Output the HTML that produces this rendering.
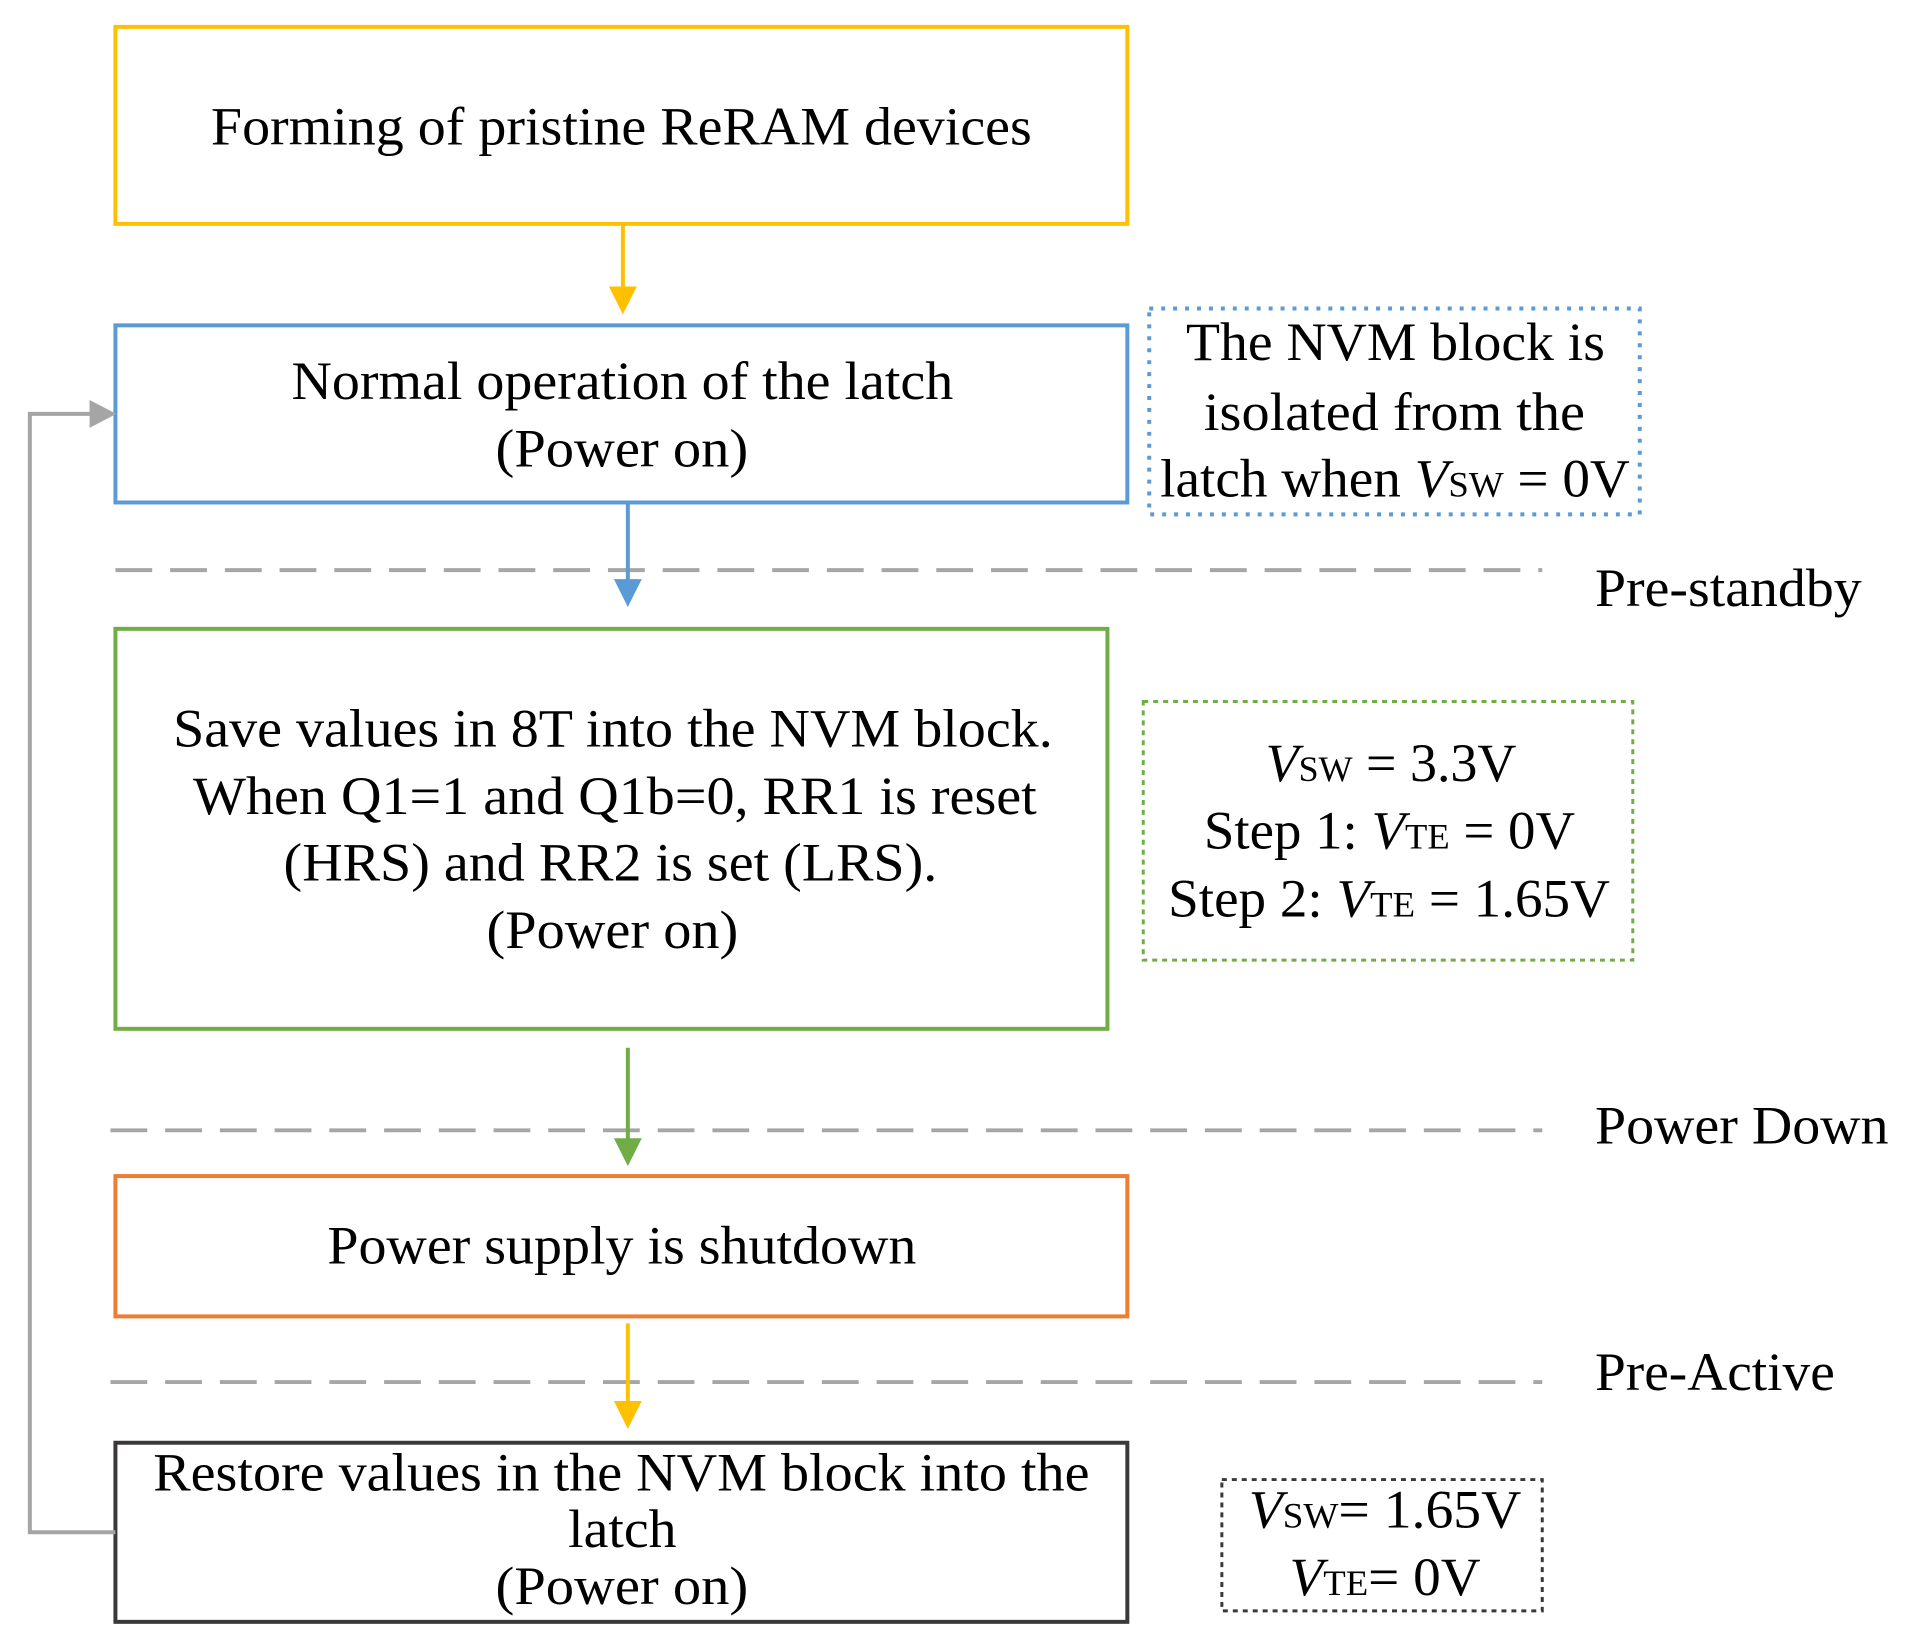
<!DOCTYPE html>
<html><head><meta charset="utf-8"><style>html,body{margin:0;padding:0;background:#fff}svg{display:block}</style></head>
<body>
<svg width="1927" height="1644" viewBox="0 0 1927 1644" xmlns="http://www.w3.org/2000/svg" font-family="'Liberation Serif', serif" font-size="54" fill="#000">
<g transform="scale(0.995)">
<g fill="none" stroke-width="4">
<rect x="116" y="27" width="1017" height="198" stroke="#FFC000"/>
<rect x="116" y="327" width="1017" height="178" stroke="#5B9BD5"/>
<rect x="1155" y="310" width="493" height="207" stroke="#5B9BD5" stroke-dasharray="4 8" stroke-width="4"/>
<rect x="116" y="632" width="997" height="402" stroke="#70AD47"/>
<rect x="1149" y="705" width="492" height="260" stroke="#70AD47" stroke-dasharray="5 5" stroke-width="3"/>
<rect x="116" y="1182" width="1017" height="141" stroke="#ED7D31"/>
<rect x="116" y="1450" width="1017" height="180" stroke="#3B3838"/>
<rect x="1228" y="1487" width="322" height="132" stroke="#3B3838" stroke-dasharray="5 5" stroke-width="3"/>
<g stroke="#A6A6A6" stroke-dasharray="37 18">
<line x1="116" y1="573" x2="1550" y2="573"/>
<line x1="111" y1="1136" x2="1550" y2="1136"/>
<line x1="111" y1="1389" x2="1550" y2="1389"/>
</g>
<line x1="626" y1="225" x2="626" y2="292" stroke="#FFC000"/>
<line x1="631" y1="505" x2="631" y2="586" stroke="#5B9BD5"/>
<line x1="631" y1="1053" x2="631" y2="1148" stroke="#70AD47"/>
<line x1="631" y1="1330" x2="631" y2="1412" stroke="#FFC000"/>
<polyline points="116,1540 30,1540 30,416 95,416" stroke="#A5A5A5"/>
</g>
<polygon points="612,288 640,288 626,316" fill="#FFC000"/>
<polygon points="617,582 645,582 631,610" fill="#5B9BD5"/>
<polygon points="617,1144 645,1144 631,1172" fill="#70AD47"/>
<polygon points="617,1408 645,1408 631,1436" fill="#FFC000"/>
<polygon points="90,402 90,430 117,416" fill="#A5A5A5"/>
<g>
<text x="212" y="145" textLength="825" lengthAdjust="spacingAndGlyphs">Forming of pristine ReRAM devices</text>
<text x="293" y="401" textLength="665" lengthAdjust="spacingAndGlyphs">Normal operation of the latch</text>
<text x="498" y="469" textLength="254" lengthAdjust="spacingAndGlyphs">(Power on)</text>
<text x="1192" y="362" textLength="421" lengthAdjust="spacingAndGlyphs">The NVM block is</text>
<text x="1210" y="432" textLength="383" lengthAdjust="spacingAndGlyphs">isolated from the</text>
<text x="1166" y="499" textLength="472" lengthAdjust="spacingAndGlyphs">latch when <tspan font-style="italic">V</tspan><tspan font-size="36">SW</tspan> = 0V</text>
<text x="1603" y="609" textLength="268" lengthAdjust="spacingAndGlyphs">Pre-standby</text>
<text x="174" y="750" textLength="884" lengthAdjust="spacingAndGlyphs">Save values in 8T into the NVM block.</text>
<text x="194" y="818" textLength="848" lengthAdjust="spacingAndGlyphs">When Q1=1 and Q1b=0, RR1 is reset</text>
<text x="285" y="885" textLength="657" lengthAdjust="spacingAndGlyphs">(HRS) and RR2 is set (LRS).</text>
<text x="489" y="953" textLength="253" lengthAdjust="spacingAndGlyphs">(Power on)</text>
<text x="1272" y="785" textLength="252" lengthAdjust="spacingAndGlyphs"><tspan font-style="italic">V</tspan><tspan font-size="36">SW</tspan> = 3.3V</text>
<text x="1210" y="853" textLength="373" lengthAdjust="spacingAndGlyphs">Step 1: <tspan font-style="italic">V</tspan><tspan font-size="36">TE</tspan> = 0V</text>
<text x="1174" y="921" textLength="444" lengthAdjust="spacingAndGlyphs">Step 2: <tspan font-style="italic">V</tspan><tspan font-size="36">TE</tspan> = 1.65V</text>
<text x="1603" y="1149" textLength="295" lengthAdjust="spacingAndGlyphs">Power Down</text>
<text x="329" y="1270" textLength="592" lengthAdjust="spacingAndGlyphs">Power supply is shutdown</text>
<text x="1603" y="1397" textLength="241" lengthAdjust="spacingAndGlyphs">Pre-Active</text>
<text x="154" y="1498" textLength="941" lengthAdjust="spacingAndGlyphs">Restore values in the NVM block into the</text>
<text x="571" y="1555" textLength="109" lengthAdjust="spacingAndGlyphs">latch</text>
<text x="498" y="1612" textLength="254" lengthAdjust="spacingAndGlyphs">(Power on)</text>
<text x="1255" y="1535" textLength="274" lengthAdjust="spacingAndGlyphs"><tspan font-style="italic">V</tspan><tspan font-size="36">SW</tspan>= 1.65V</text>
<text x="1296" y="1603" textLength="192" lengthAdjust="spacingAndGlyphs"><tspan font-style="italic">V</tspan><tspan font-size="36">TE</tspan>= 0V</text>
</g>
</g>
</svg>
</body></html>
